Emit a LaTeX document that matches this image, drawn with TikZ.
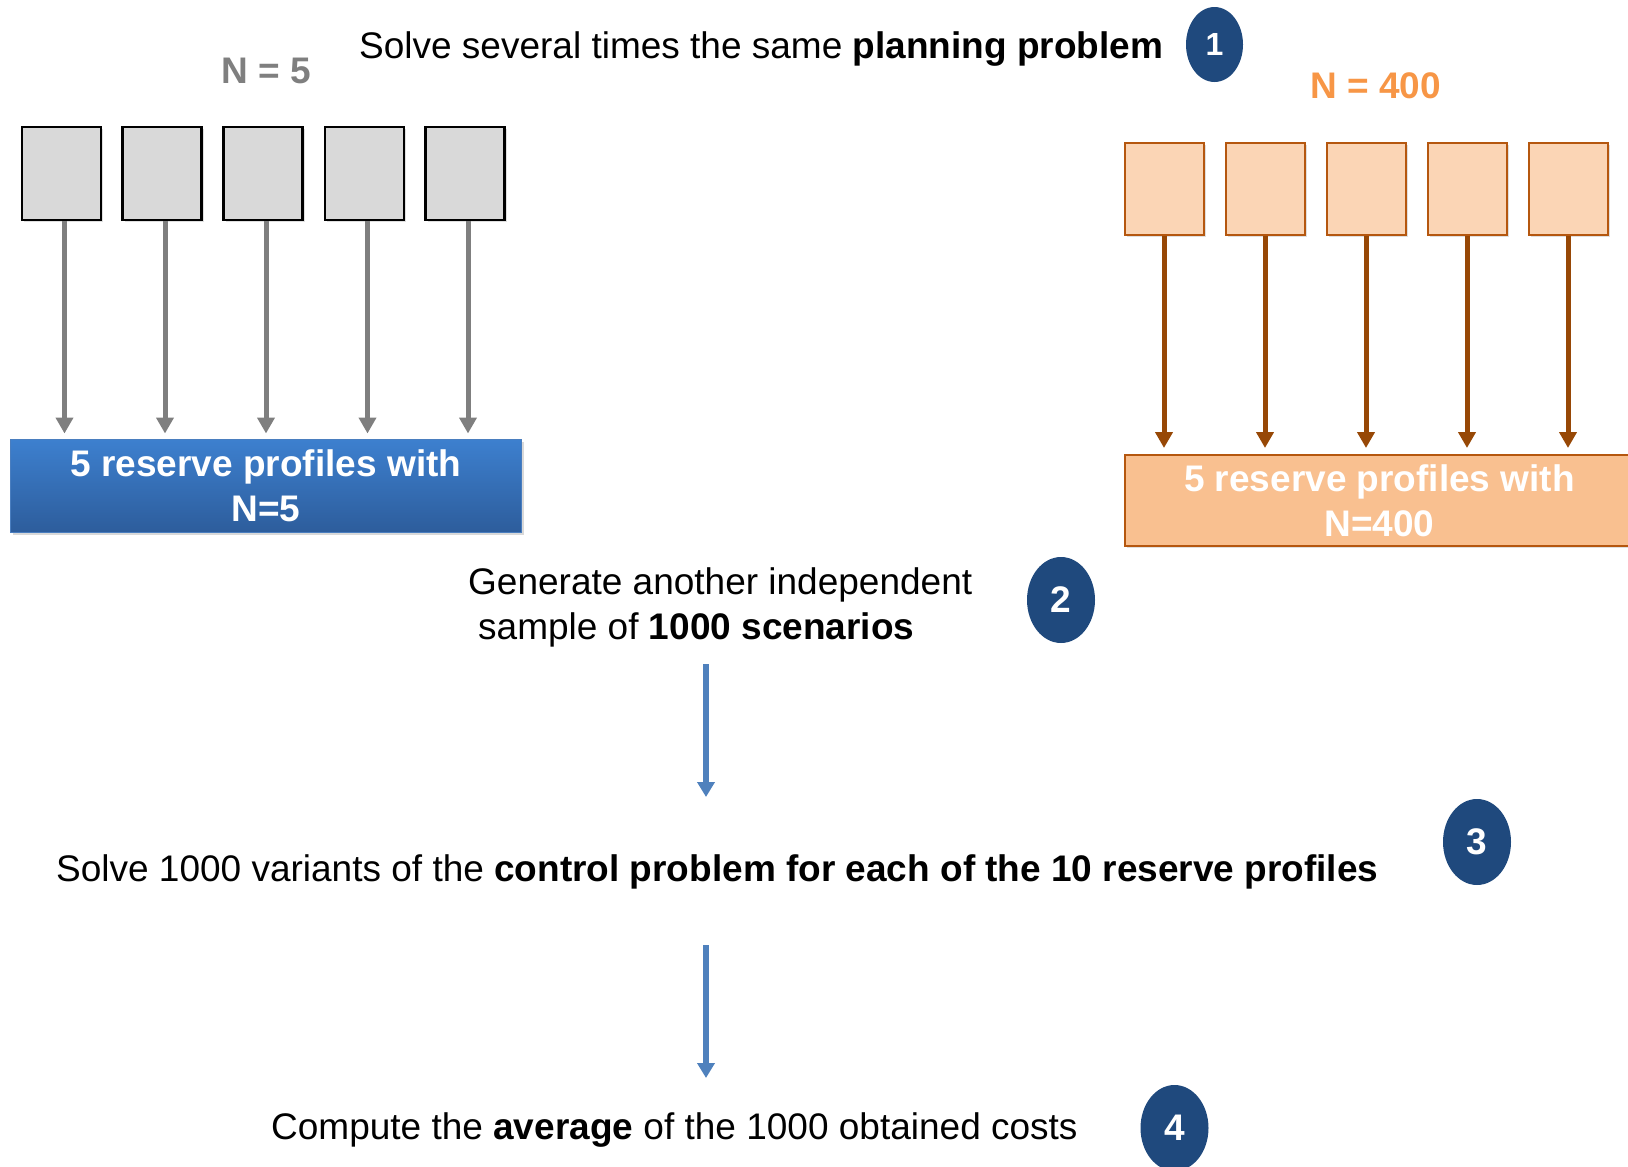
\documentclass[tikz,border=0pt]{standalone}
\usepackage{fontspec}
\setmainfont{Liberation Sans}
\usetikzlibrary{arrows.meta,shapes.geometric,shadows}
\definecolor{grayfill}{HTML}{D9D9D9}
\definecolor{grayarrow}{HTML}{7F7F7F}
\definecolor{peach}{HTML}{FBD5B5}
\definecolor{peachdark}{HTML}{F9C090}
\definecolor{brownline}{HTML}{B5570F}
\definecolor{brownarrow}{HTML}{974806}
\definecolor{bluetop}{HTML}{3D80CF}
\definecolor{bluebot}{HTML}{2D5D9C}
\definecolor{blueedge}{HTML}{4A7EBF}
\definecolor{bluearrow}{HTML}{4F81BD}
\definecolor{navy}{HTML}{1F497D}
\definecolor{ntitlegray}{HTML}{7F7F7F}
\definecolor{ntitleorange}{HTML}{F79646}
\newcommand\mytxt{\fontsize{37}{45}\selectfont}
\newcommand\mysmall{\fontsize{32}{38}\selectfont}
\begin{document}
\begin{tikzpicture}[x=1pt,y=-1pt,
  graybox/.style={draw=black,line width=2.5pt,fill=grayfill,minimum width=79pt,minimum height=93pt,inner sep=0pt,
    drop shadow={opacity=0.25,shadow xshift=2pt,shadow yshift=-2pt}},
  peachbox/.style={draw=brownline,line width=2pt,fill=peach,minimum width=79pt,minimum height=92pt,inner sep=0pt,
    drop shadow={opacity=0.25,shadow xshift=2pt,shadow yshift=-2pt}},
  garrow/.style={draw=grayarrow,line width=5pt,-{Triangle[width=17pt,length=16pt]},shorten >=5pt},
  barrow/.style={draw=brownarrow,line width=5pt,-{Triangle[width=17pt,length=16pt]},shorten >=6pt},
  larrow/.style={draw=bluearrow,line width=6pt,-{Triangle[width=17pt,length=15pt]}},
  badge/.style={ellipse,fill=navy,text=white,font=\mytxt\bfseries,inner sep=0pt,minimum width=68pt,minimum height=86pt},
  bodytext/.style={font=\mytxt,inner sep=0pt,anchor=base west},
  resbox/.style={font=\mytxt\bfseries,text=white,align=center,inner sep=0pt}
]
\useasboundingbox (0,0) rectangle (1628,1167);

% step 1
\node[bodytext] (t1) at (359,58) {Solve several times the same \textbf{planning problem}};
\node[badge,minimum width=57pt,minimum height=75pt,font=\mysmall\bfseries] (c1) at (1214.5,44.5) {1};

\node[font=\mytxt\bfseries,text=ntitlegray,inner sep=0pt,anchor=base] (n5) at (266.5,83) {N = 5};
\node[font=\mytxt\bfseries,text=ntitleorange,inner sep=0pt,anchor=base] (n400) at (1375.5,98) {N = 400};

% gray boxes
\foreach \i/\x in {1/61.5,2/162,3/263,4/364.5,5/465}{
  \node[graybox] (g\i) at (\x,173.5) {};
}
\node[resbox,minimum width=511pt,minimum height=93pt,top color=bluetop,bottom color=bluebot,draw=blueedge,line width=1pt,
  drop shadow={opacity=0.3,shadow xshift=2pt,shadow yshift=-3pt}] (bb) at (266,485.5)
  {5 reserve profiles with\\N=5};
\foreach \i in {1,...,5}{
  \draw[garrow] ([xshift=3pt]g\i.south) -- ([xshift=3pt]g\i.south |- bb.north);
}

% orange boxes
\foreach \i/\x in {1/1164,2/1265,3/1366,4/1467,5/1568}{
  \node[peachbox] (o\i) at (\x,188.5) {};
}
\node[resbox,minimum width=510pt,minimum height=91pt,fill=peachdark,draw=brownline,line width=2pt,
  drop shadow={opacity=0.25,shadow xshift=2pt,shadow yshift=-2pt}] (ob) at (1379.5,500.5)
  {5 reserve profiles with\\N=400};
\foreach \i in {1,...,5}{
  \draw[barrow] (o\i.south) -- (o\i.south |- ob.north);
}

% step 2
\node[bodytext] (t2a) at (468,594) {Generate another independent};
\node[bodytext] (t2b) at (478,639) {sample of \textbf{1000 scenarios}};
\node[badge] (c2) at (1061,600) {2};

\coordinate (a1s) at (706,664);
\coordinate (a1e) at (706,797);
\draw[larrow] (a1s) -- (a1e);

% step 3
\node[bodytext] (t3) at (56,881) {Solve 1000 variants of the \textbf{control problem for each of the 10 reserve profiles}};
\node[badge] (c3) at (1477,842) {3};

\coordinate (a2s) at (706,945);
\coordinate (a2e) at (706,1078);
\draw[larrow] (a2s) -- (a2e);

% step 4
\node[bodytext] (t4) at (271,1139) {Compute the \textbf{average} of the 1000 obtained costs};
\node[badge] (c4) at (1174.5,1128) {4};
\end{tikzpicture}
\end{document}
